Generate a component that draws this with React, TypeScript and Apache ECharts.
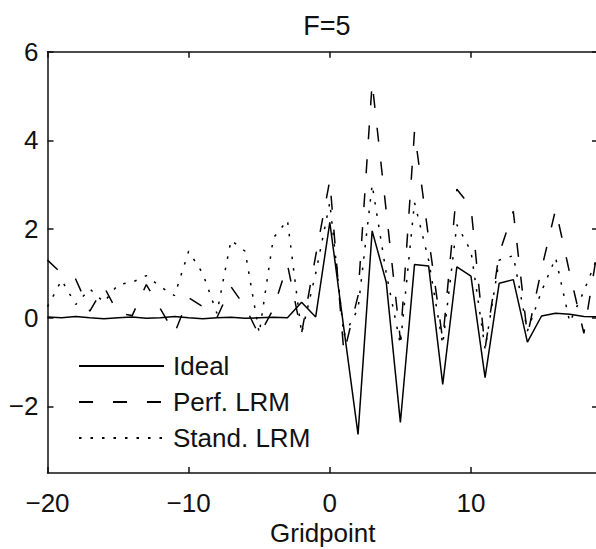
import React, { useEffect, useRef } from "react";
import * as echarts from "echarts";

const gridpoints: number[] = [
  -20, -19, -18, -17, -16, -15, -14, -13, -12, -11,
  -10, -9, -8, -7, -6, -5, -4, -3, -2, -1,
  0, 1, 2, 3, 4, 5, 6, 7, 8, 9,
  10, 11, 12, 13, 14, 15, 16, 17, 18, 19,
];

const ideal: number[] = [
  0.02, 0.0, 0.03, 0.0, -0.02, 0.0, 0.02, -0.01, 0.0, 0.03,
  0.0, -0.02, 0.0, 0.01, -0.01, 0.0, 0.01, 0.0, 0.35, 0.02,
  2.15, -0.25, -2.63, 1.96, 0.8, -2.36, 1.2, 1.17, -1.5, 1.15,
  0.94, -1.35, 0.78, 0.86, -0.55, 0.04, 0.1, 0.08, 0.03, 0.02,
];

const perfLRM: number[] = [
  1.3, 1.0, 0.87, 0.15, 0.7, 0.1, 0.05, 0.75, 0.2, -0.35,
  0.45, 0.25, 0.0, 0.7, 0.25, -0.4, 0.2, 1.2, -0.35, 1.4,
  3.1, -0.8, 0.5, 5.3, 2.4, -0.5, 4.2, 1.8, -0.5, 2.9,
  2.5, -0.7, 1.45, 2.4, -0.4, 1.1, 2.45, 1.0, -0.35, 1.6,
];

const standLRM: number[] = [
  0.25, 0.85, 0.3, 0.65, 0.35, 0.75, 0.8, 0.95, 0.7, 0.5,
  1.5, 1.0, 0.1, 1.75, 1.5, -0.35, 1.8, 2.2, -0.35, 1.0,
  2.6, -0.4, 0.2, 3.0, 1.0, -0.6, 2.6, 1.3, -0.6, 2.1,
  1.5, -0.7, 1.3, 1.4, -0.3, 0.6, 1.35, -0.1, 0.6, 1.4,
];

const xTicks: number[] = [-20, -10, 0, 10];
const yTicks: number[] = [-2, 0, 2, 4, 6];

const FONT = "Liberation Sans";
const INK = "#111";

export default function App() {
  const ref = useRef<HTMLDivElement>(null);

  useEffect(() => {
    if (!ref.current) return;
    const chart = echarts.init(ref.current, undefined, { renderer: "svg" });
    const fmt = (v: number) => String(v).replace("-", "\u2212");
    const axisLine = { show: true, onZero: false, lineStyle: { color: INK, width: 1.5 } };
    const tick = (vals: number[]) => ({
      show: true,
      inside: true,
      length: 6,
      customValues: vals,
      lineStyle: { color: INK, width: 1.5 },
    });
    const mk = (name: string, data: number[], type: any) => ({
      name,
      type: "line",
      data: gridpoints.map((g, i) => [g, data[i]]),
      symbol: "none",
      lineStyle: { color: "#000", width: 1.5, type },
      itemStyle: { color: "#000" },
    });
    chart.setOption({
      animation: false,
      backgroundColor: "#fff",
      title: {
        text: "F=5",
        left: 322,
        textAlign: "center",
        top: 7,
        textStyle: { fontFamily: FONT, fontSize: 27, fontWeight: "normal", color: INK },
      },
      grid: {
        left: 47.5,
        right: -2,
        top: 51.7,
        bottom: 76,
        containLabel: false,
        outerBoundsMode: "none",
      },
      legend: {
        data: ["Ideal", "Perf. LRM", "Stand. LRM"],
        orient: "vertical",
        left: 78,
        top: 351,
        padding: 0,
        itemWidth: 85,
        itemHeight: 16,
        itemGap: 6,
        itemStyle: { color: "transparent", borderWidth: 0, opacity: 0 },
        textStyle: {
          fontFamily: FONT,
          fontSize: 26,
          lineHeight: 30,
          color: INK,
          padding: [0, 0, 0, 4],
        },
      },
      xAxis: [
        {
          type: "value",
          min: -20,
          max: 19,
          position: "bottom",
          axisLine,
          axisTick: tick(xTicks),
          splitLine: { show: false },
          axisLabel: {
            customValues: xTicks,
            formatter: fmt,
            fontFamily: FONT,
            fontSize: 26,
            color: INK,
            margin: 17,
          },
          name: "Gridpoint",
          nameLocation: "middle",
          nameGap: 47,
          nameMoveOverlap: false,
          nameTextStyle: { fontFamily: FONT, fontSize: 26, color: INK },
        },
        {
          type: "value",
          min: -20,
          max: 19,
          position: "top",
          axisLine,
          axisTick: tick(xTicks),
          splitLine: { show: false },
          axisLabel: { show: false },
        },
      ],
      yAxis: [
        {
          type: "value",
          min: -3.5,
          max: 6,
          position: "left",
          axisLine,
          axisTick: tick(yTicks),
          splitLine: { show: false },
          axisLabel: {
            customValues: yTicks,
            formatter: fmt,
            fontFamily: FONT,
            fontSize: 26,
            color: INK,
            margin: 9,
          },
        },
        {
          type: "value",
          min: -3.5,
          max: 6,
          position: "right",
          axisLine,
          axisTick: tick(yTicks),
          splitLine: { show: false },
          axisLabel: { show: false },
        },
      ],
      series: [
        mk("Ideal", ideal, "solid"),
        mk("Perf. LRM", perfLRM, [14, 20]),
        mk("Stand. LRM", standLRM, [2.5, 9]),
      ],
    });
    return () => chart.dispose();
  }, []);

  return (
    <div
      ref={ref}
      style={{ position: "fixed", left: 0, top: 0, width: 596, height: 549, background: "#fff" }}
    />
  );
}
